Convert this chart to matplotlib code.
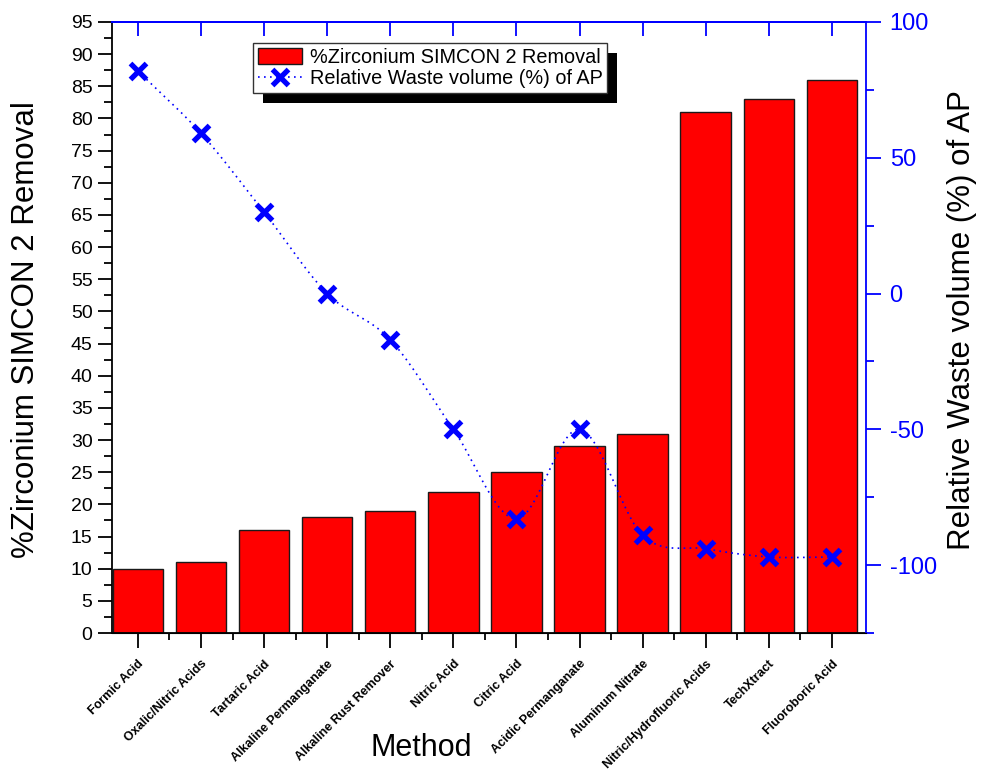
import numpy as np
import matplotlib
matplotlib.use("Agg")
import matplotlib.pyplot as plt
from matplotlib.patches import Rectangle, Patch
from matplotlib.lines import Line2D
from matplotlib.transforms import IdentityTransform, ScaledTranslation
from matplotlib.ticker import MultipleLocator, FixedLocator

plt.rcParams['font.family'] = ['Liberation Sans', 'DejaVu Sans']
plt.rcParams['axes.unicode_minus'] = False

methods = ["Formic Acid", "Oxalic/Nitric Acids", "Tartaric Acid", "Alkaline Permanganate",
           "Alkaline Rust Remover", "Nitric Acid", "Citric Acid", "Acidic Permanganate",
           "Aluminum Nitrate", "Nitric/Hydrofluoric Acids", "TechXtract", "Fluoroboric Acid"]
zr_removal = [10, 11, 16, 18, 19, 22, 25, 29, 31, 81, 83, 86]
waste_volume = [82, 59, 30, 0, -17, -50, -83, -50, -89, -94, -97, -97]

fig = plt.figure(figsize=(9.81, 7.71), dpi=100)
ax = fig.add_axes([112/981, 1-633/771, 754/981, 611/771])
x = np.arange(len(methods))

ax.bar(x, zr_removal, width=0.8, color='#ff0000', edgecolor='#1a1a1a', linewidth=1.0,
       label='%Zirconium SIMCON 2 Removal', zorder=2)
ax.set_xlim(-0.41, 11.54)
ax.set_ylim(0, 95)
ax.yaxis.set_major_locator(MultipleLocator(5))
ax.yaxis.set_minor_locator(MultipleLocator(2.5))
ax.set_xticks(x)
ax.set_xticklabels(methods, rotation=45, ha='right', rotation_mode='anchor',
                   fontsize=9, fontweight='bold')
shift = ScaledTranslation(4/100, 0, fig.dpi_scale_trans)
for lab in ax.get_xticklabels():
    lab.set_transform(lab.get_transform() + shift)
ax.xaxis.set_minor_locator(FixedLocator(x[:-1] + 0.5))
ax.tick_params(axis='x', which='major', direction='out', length=11, width=1.3, pad=7)
ax.tick_params(axis='x', which='minor', direction='out', length=5, width=1.3)
ax.tick_params(axis='y', which='major', direction='out', length=10, width=1.3, labelsize=14, pad=4)
ax.tick_params(axis='y', which='minor', direction='out', length=6, width=1.3)
for s in ['left', 'bottom']:
    ax.spines[s].set_linewidth(1.3)
ax.spines['top'].set_color('blue')
ax.spines['top'].set_linewidth(1.3)
ax.spines['right'].set_visible(False)

ax.set_ylabel('%Zirconium SIMCON 2 Removal', fontsize=22.5)
ax.yaxis.set_label_coords(-0.094, 0.496)
ax.set_xlabel('Method', fontsize=22)
ax.xaxis.set_label_coords((421-112)/754, -0.163)

top = ax.secondary_xaxis('top')
top.set_xticks(x)
top.tick_params(axis='x', direction='in', length=10, width=1.3, colors='blue', labeltop=False)
top.spines['top'].set_color('blue')
top.spines['top'].set_linewidth(1.3)

ax2 = ax.twinx()
ax2.set_ylim(-125, 100)
ax2.yaxis.set_major_locator(MultipleLocator(50))
ax2.yaxis.set_minor_locator(MultipleLocator(25))
ax2.tick_params(axis='y', which='major', direction='out', length=11, width=1.3,
                colors='blue', labelsize=17, pad=6)
ax2.tick_params(axis='y', which='minor', direction='out', length=6, width=1.3, colors='blue')
ax2.spines['right'].set_color('blue')
ax2.spines['right'].set_linewidth(1.3)
ax2.spines['top'].set_color('blue')
ax2.spines['top'].set_linewidth(1.3)
ax2.spines['left'].set_visible(False)
ax2.set_ylabel('Relative Waste volume (%) of AP', fontsize=22.5)
ax2.yaxis.set_label_coords(1.107, 0.512)

# smooth connecting curve (Catmull-Rom through the data points)
xv = x.astype(float)
yv = np.array(waste_volume, dtype=float)
px = np.concatenate([[2*xv[0]-xv[1]], xv, [2*xv[-1]-xv[-2]]])
py = np.concatenate([[2*yv[0]-yv[1]], yv, [2*yv[-1]-yv[-2]]])
cx, cy = [], []
t = np.linspace(0, 1, 30)
for i in range(1, len(px)-2):
    p0, p1, p2, p3 = [np.array([px[j], py[j]]) for j in (i-1, i, i+1, i+2)]
    for tt in t:
        pt = 0.5*((2*p1) + (-p0+p2)*tt + (2*p0-5*p1+4*p2-p3)*tt**2 + (-p0+3*p1-3*p2+p3)*tt**3)
        cx.append(pt[0]); cy.append(pt[1])
ax2.plot(cx, cy, color='blue', linestyle=(0, (1, 2.6)), linewidth=1.2, zorder=3)
ax2.plot(xv, yv, linestyle='none', marker='x', markersize=11, markeredgewidth=3.8,
         color='blue', zorder=4)

handles = [Patch(facecolor='#ff0000', edgecolor='#1a1a1a', linewidth=1.0),
           Line2D([], [], color='blue', linestyle=(0, (1, 2.6)), linewidth=1.2,
                  marker='x', markersize=11, markeredgewidth=3.8)]
labels = ['%Zirconium SIMCON 2 Removal', 'Relative Waste volume (%) of AP']
leg = ax2.legend(handles, labels, loc='upper left',
                 bbox_to_anchor=((253-112)/754, (633-43)/611), borderaxespad=0,
                 fontsize=14.3, frameon=True, fancybox=False, shadow=False,
                 handlelength=2.2, handleheight=0.85, handletextpad=0.4, borderpad=0.25,
                 labelspacing=0.1, edgecolor='#333333', framealpha=1)
leg.get_frame().set_linewidth(1.0)
leg.set_zorder(10)

fig.canvas.draw()
bb = leg.get_window_extent()
sh = Rectangle((bb.x0 + 10, bb.y0 - 10), bb.width, bb.height, transform=IdentityTransform(),
               facecolor='black', edgecolor='none', zorder=9, clip_on=False)
ax2.add_artist(sh)

fig.savefig('out.png', dpi=100)
